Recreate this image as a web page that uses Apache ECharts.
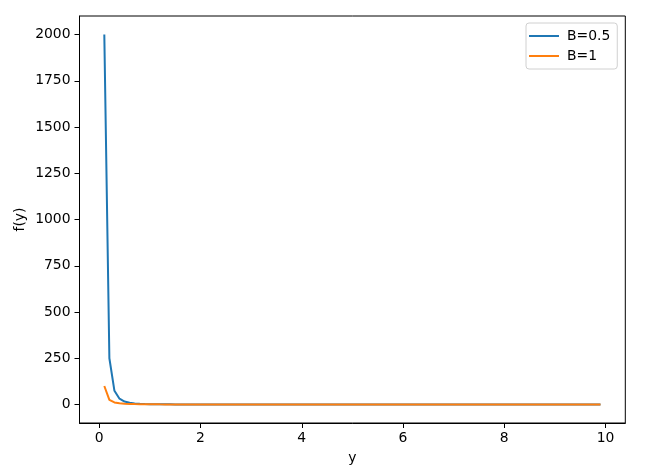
<!DOCTYPE html>
<html>
<head>
<meta charset="utf-8">
<script src="https://cdn.jsdelivr.net/npm/echarts@6/dist/echarts.min.js"></script>
<style>
html,body{margin:0;padding:0;background:#fff;}
#chart{width:651px;height:466px;}
</style>
</head>
<body>
<div id="chart"></div>
<script>
var yValues = [0.1,0.2,0.3,0.4,0.5,0.6,0.7,0.8,0.9,1.0,
  1.1,1.2,1.3,1.4,1.5,1.6,1.7,1.8,1.9,2.0,
  2.1,2.2,2.3,2.4,2.5,2.6,2.7,2.8,2.9,3.0,
  3.1,3.2,3.3,3.4,3.5,3.6,3.7,3.8,3.9,4.0,
  4.1,4.2,4.3,4.4,4.5,4.6,4.7,4.8,4.9,5.0,
  5.1,5.2,5.3,5.4,5.5,5.6,5.7,5.8,5.9,6.0,
  6.1,6.2,6.3,6.4,6.5,6.6,6.7,6.8,6.9,7.0,
  7.1,7.2,7.3,7.4,7.5,7.6,7.7,7.8,7.9,8.0,
  8.1,8.2,8.3,8.4,8.5,8.6,8.7,8.8,8.9,9.0,
  9.1,9.2,9.3,9.4,9.5,9.6,9.7,9.8,9.9];

var fB05 = [2000,250,74.07,31.25,16,9.26,5.83,3.91,2.74,2,
  1.50,1.16,0.91,0.73,0.59,0.49,0.41,0.34,0.29,0.25,
  0.22,0.19,0.16,0.14,0.13,0.11,0.10,0.09,0.08,0.074,
  0.067,0.061,0.056,0.051,0.047,0.043,0.039,0.036,0.034,0.031,
  0.029,0.027,0.025,0.023,0.022,0.021,0.019,0.018,0.017,0.016,
  0.015,0.014,0.013,0.013,0.012,0.011,0.011,0.010,0.010,0.009,
  0.009,0.008,0.008,0.008,0.007,0.007,0.007,0.006,0.006,0.006,
  0.006,0.005,0.005,0.005,0.005,0.005,0.004,0.004,0.004,0.004,
  0.004,0.004,0.003,0.003,0.003,0.003,0.003,0.003,0.003,0.003,
  0.003,0.003,0.002,0.002,0.002,0.002,0.002,0.002,0.002];

var fB1 = [100,25,11.11,6.25,4,2.78,2.04,1.56,1.23,1,
  0.83,0.69,0.59,0.51,0.44,0.39,0.35,0.31,0.28,0.25,
  0.23,0.21,0.19,0.17,0.16,0.15,0.14,0.13,0.12,0.11,
  0.104,0.098,0.092,0.087,0.082,0.077,0.073,0.069,0.066,0.0625,
  0.059,0.057,0.054,0.052,0.049,0.047,0.045,0.043,0.042,0.04,
  0.038,0.037,0.036,0.034,0.033,0.032,0.031,0.030,0.029,0.028,
  0.027,0.026,0.025,0.024,0.024,0.023,0.022,0.022,0.021,0.020,
  0.020,0.019,0.019,0.018,0.018,0.017,0.017,0.016,0.016,0.016,
  0.015,0.015,0.015,0.014,0.014,0.014,0.013,0.013,0.013,0.012,
  0.012,0.012,0.012,0.011,0.011,0.011,0.011,0.010,0.010];

var seriesNames = ['B=0.5', 'B=1'];
var xTicks = [0,2,4,6,8,10];
var yTicks = [0,250,500,750,1000,1250,1500,1750,2000];

function pairs(vals){ return yValues.map(function(x,i){ return [x, vals[i]]; }); }
function plain(v){ return String(v); }

var FONT = 'DejaVu Sans';
var FS = 13.9;

var chart = echarts.init(document.getElementById('chart'), null, {renderer:'canvas'});
chart.setOption({
  animation: false,
  backgroundColor: '#ffffff',
  textStyle: {fontFamily: FONT},
  grid: {left: 79.5, top: 16, right: 25.7, bottom: 43, containLabel: false, outerBoundsMode: 'none',
         show: true, borderColor: '#000', borderWidth: 1, backgroundColor: 'transparent'},
  legend: {
    orient: 'vertical', left: 526, top: 23,
    data: seriesNames,
    itemWidth: 30, itemHeight: 2, itemGap: 6,
    icon: 'rect',
    padding: [6, 7, 6, 3],
    borderColor: '#d0d0d0', borderWidth: 1, borderRadius: 3,
    backgroundColor: 'rgba(255,255,255,0.8)',
    textStyle: {fontFamily: FONT, fontSize: FS, color: '#000', padding: [0,0,0,3]}
  },
  xAxis: {
    type: 'value', min: -0.39, max: 10.39,
    name: 'y', nameLocation: 'middle', nameGap: 28, nameMoveOverlap: false,
    nameTextStyle: {fontFamily: FONT, fontSize: FS, color: '#000'},
    axisLine: {show: true, onZero: false, lineStyle: {color: '#000', width: 1}},
    axisTick: {show: true, inside: false, length: 5, customValues: xTicks, lineStyle: {color: '#000'}},
    axisLabel: {show: true, margin: 8, customValues: xTicks, formatter: plain, fontFamily: FONT, fontSize: FS, color: '#000', showMinLabel: true, showMaxLabel: true},
    splitLine: {show: false}
  },
  yAxis: {
    type: 'value', min: -100, max: 2100,
    name: 'f(y)', nameLocation: 'middle', nameGap: 52, nameMoveOverlap: false,
    nameTextStyle: {fontFamily: FONT, fontSize: FS, color: '#000'},
    axisLine: {show: true, onZero: false, lineStyle: {color: '#000', width: 1}},
    axisTick: {show: true, inside: false, length: 5, customValues: yTicks, lineStyle: {color: '#000'}},
    axisLabel: {show: true, margin: 9, customValues: yTicks, formatter: plain, fontFamily: FONT, fontSize: FS, color: '#000'},
    splitLine: {show: false}
  },
  series: [
    {name: seriesNames[0], type: 'line', data: pairs(fB05), showSymbol: false, symbol: 'none',
     lineStyle: {color: '#1f77b4', width: 2}, itemStyle: {color: '#1f77b4'}},
    {name: seriesNames[1], type: 'line', data: pairs(fB1), showSymbol: false, symbol: 'none',
     lineStyle: {color: '#ff7f0e', width: 2}, itemStyle: {color: '#ff7f0e'}}
  ]
});
</script>
</body>
</html>
